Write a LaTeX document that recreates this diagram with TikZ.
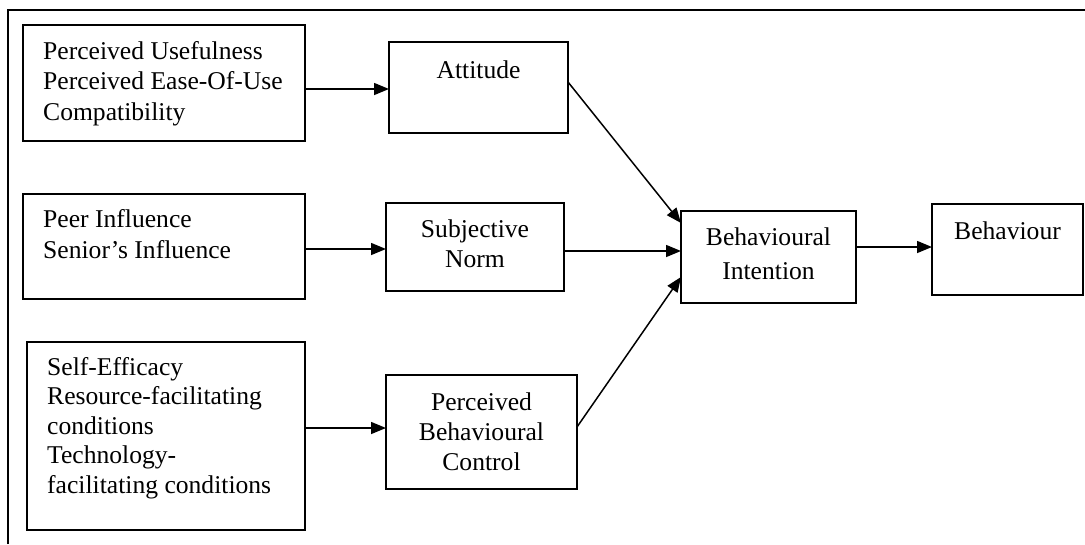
\documentclass[tikz,border=0pt]{standalone}
\usepackage{fontspec}
\setmainfont{Liberation Serif}
\usetikzlibrary{arrows.meta}
\newcommand\tp{\rule{0pt}{21pt}}
\begin{document}
\begin{tikzpicture}[x=1pt,y=-1pt,
  box/.style={draw, line width=1.8pt, rectangle, inner sep=0pt, outer sep=0pt},
  txt/.style={inner sep=0pt, font=\fontsize{25.6}{30}\selectfont},
  arr/.style={line width=1.5pt, -{Triangle[length=15pt,width=12pt]}}]
\useasboundingbox (0,0) rectangle (1085,544);
\draw[line width=1.8pt] (8,544) -- (8,10) -- (1085,10);

% boxes
\node[box, minimum width=282pt, minimum height=116pt] (b1) at (164,83) {};
\node[box, minimum width=282pt, minimum height=105pt] (b2) at (164,246.5) {};
\node[box, minimum width=278pt, minimum height=188pt] (b3) at (166,436) {};
\node[box, minimum width=179pt, minimum height=91pt] (att) at (478.5,87.5) {};
\node[box, minimum width=178pt, minimum height=88pt] (sn) at (475,247) {};
\node[box, minimum width=191pt, minimum height=114pt] (pbc) at (481.5,432) {};
\node[box, minimum width=175pt, minimum height=92pt] (bi) at (768.5,257) {};
\node[box, minimum width=151pt, minimum height=91pt] (beh) at (1007.5,249.5) {};

% texts
\node[txt, anchor=north west, align=left, font=\fontsize{25.6}{30.5}\selectfont] (t1) at (43,38)
  {\tp Perceived Usefulness\\Perceived Ease-Of-Use\\Compatibility};
\node[txt, anchor=north west, align=left, font=\fontsize{25.6}{31}\selectfont] (t2) at (43,206)
  {\tp Peer Influence\\Senior’s Influence};
\node[txt, anchor=north west, align=left, font=\fontsize{25.6}{29.5}\selectfont] (t3) at (47,354)
  {\tp Self-Efficacy\\Resource-facilitating\\conditions\\Technology-\\facilitating conditions};
\node[txt, anchor=north, align=center] (tA) at (478.5,57) {\tp Attitude};
\node[txt, anchor=north, align=center] (tS) at (475,216) {\tp Subjective\\Norm};
\node[txt, anchor=north, align=center] (tP) at (481.5,389) {\tp Perceived\\Behavioural\\Control};
\node[txt, anchor=north, align=center, font=\fontsize{25.6}{34}\selectfont] (tBI) at (768.5,224) {\tp Behavioural\\Intention};
\node[txt, anchor=north, align=center] (tB) at (1007.5,218) {\tp Behaviour};

% connectors
\draw[arr] ([yshift=-6pt]b1.east) -- ([yshift=-1.5pt]att.west);
\draw[arr] ([yshift=-2.5pt]b2.east) -- ([yshift=-2pt]sn.west);
\draw[arr] ([yshift=8pt]b3.east) -- ([yshift=4pt]pbc.west);
\draw[arr] ([yshift=5.5pt]att.east) -- ([yshift=34pt]bi.west);
\draw[arr] ([yshift=-4pt]sn.east) -- ([yshift=6pt]bi.west);
\draw[arr] ([yshift=5pt]pbc.east) -- ([yshift=-20pt]bi.west);
\draw[arr] ([yshift=10pt]bi.east) -- ([yshift=2.5pt]beh.west);
\end{tikzpicture}
\end{document}
